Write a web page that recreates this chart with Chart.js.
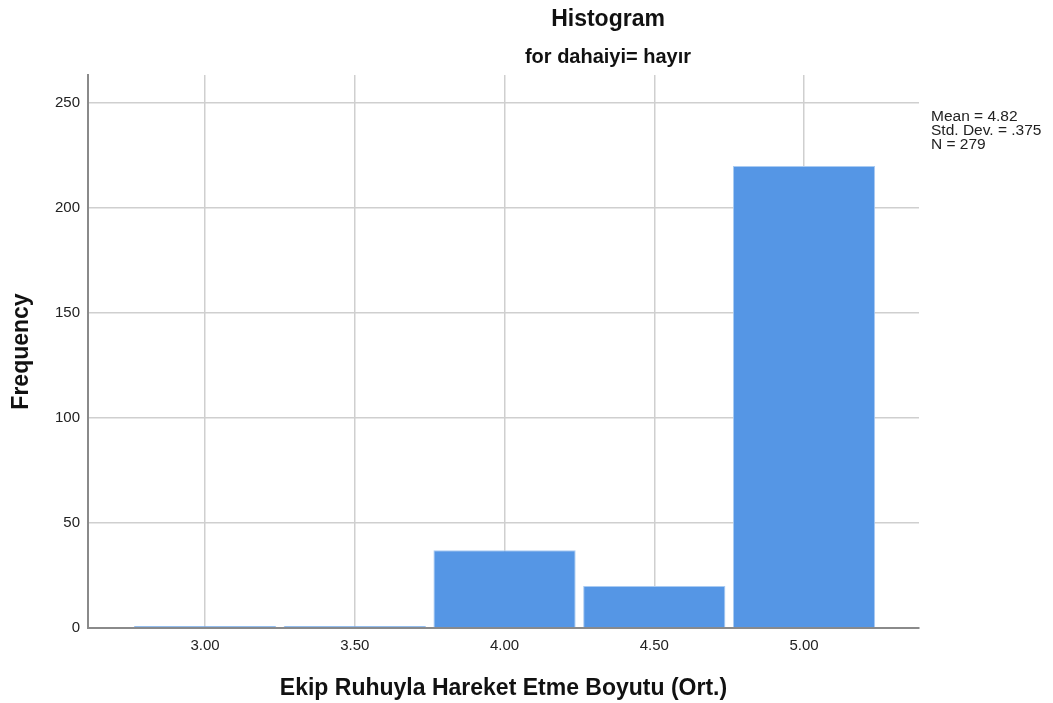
<!DOCTYPE html>
<html>
<head>
<meta charset="utf-8">
<title>Histogram</title>
<script src="https://cdn.jsdelivr.net/npm/chart.js@4/dist/chart.umd.min.js"></script>
<style>
  html, body { margin: 0; padding: 0; background: #ffffff; }
  #wrap { width: 1053px; height: 703px; }
</style>
</head>
<body>
<div id="wrap"><canvas id="histChart" width="1053" height="703"></canvas></div>
<script>
const binCenters = [3.00, 3.50, 4.00, 4.50, 5.00];
const frequencies = [1, 1, 37, 20, 220];
const xTickValues = [3.00, 3.50, 4.00, 4.50, 5.00];
const yTickValues = [0, 50, 100, 150, 200, 250];
const chartTitle = 'Histogram';
const chartSubtitle = 'for dahaiyi= hayır';
const statsLines = ['Mean = 4.82', 'Std. Dev. = .375', 'N = 279'];
const xTitle = 'Ekip Ruhuyla Hareket Etme Boyutu (Ort.)';
const yTitle = 'Frequency';

const FONT = "'Liberation Sans', Arial, Helvetica, sans-serif";

// Títulos y cuadro de estadísticas dibujados a mano
const textPlugin = {
    id: 'spssText',
    afterDraw(chart) {
        const ctx = chart.ctx;
        ctx.save();
        ctx.fillStyle = '#111111';
        ctx.textAlign = 'center';
        ctx.textBaseline = 'alphabetic';
        ctx.font = 'bold 23px ' + FONT;
        ctx.fillText(chartTitle, 608, 26);
        ctx.font = 'bold 20px ' + FONT;
        ctx.fillText(chartSubtitle, 608, 63);

        ctx.textAlign = 'left';
        ctx.font = '15.5px ' + FONT;
        ctx.fillStyle = '#222222';
        statsLines.forEach((line, i) => {
            ctx.fillText(line, 931, 121 + i * 14);
        });
        ctx.restore();
    }
};

const ctx = document.getElementById('histChart').getContext('2d');

new Chart(ctx, {
    type: 'bar',
    data: {
        datasets: [{
            label: yTitle,
            data: binCenters.map((x, i) => ({ x: x, y: frequencies[i] })),
            backgroundColor: '#5596e5',
            borderColor: '#a9cbf2',
            borderWidth: 1,
            borderSkipped: 'bottom',
            barPercentage: 0.95,
            categoryPercentage: 1.0
        }]
    },
    options: {
        responsive: false,
        animation: false,
        layout: {
            padding: { top: 75, right: 134, bottom: 0, left: 0 }
        },
        plugins: {
            legend: { display: false },
            tooltip: { enabled: false }
        },
        scales: {
            x: {
                type: 'linear',
                offset: false,
                min: 2.609,
                max: 5.384,
                afterBuildTicks: (scale) => {
                    scale.ticks = xTickValues.map(v => ({ value: v }));
                },
                afterFit: (scale) => { scale.height = 75; },
                grid: {
                    offset: false,
                    color: '#cfcfcf',
                    lineWidth: 1.5,
                    drawTicks: false
                },
                border: { color: '#8a8a8a', width: 2 },
                ticks: {
                    color: '#222222',
                    font: { family: FONT, size: 15 },
                    padding: 9,
                    maxRotation: 0,
                    callback: (value) => Number(value).toFixed(2)
                },
                title: {
                    display: true,
                    text: xTitle,
                    color: '#111111',
                    font: { family: FONT, size: 23, weight: 'bold' },
                    padding: { top: 0, bottom: 1 }
                }
            },
            y: {
                min: 0,
                max: 263.3,
                afterBuildTicks: (scale) => {
                    scale.ticks = yTickValues.map(v => ({ value: v }));
                },
                afterFit: (scale) => { scale.width = 88; },
                grid: {
                    color: '#cfcfcf',
                    lineWidth: 1.5,
                    drawTicks: false
                },
                border: { color: '#8a8a8a', width: 2 },
                ticks: {
                    color: '#222222',
                    font: { family: FONT, size: 15 },
                    padding: 8
                },
                title: {
                    display: true,
                    text: yTitle,
                    color: '#111111',
                    font: { family: FONT, size: 23, weight: 'bold' },
                    padding: { top: 8, bottom: 0 }
                }
            }
        }
    },
    plugins: [textPlugin]
});
</script>
</body>
</html>
